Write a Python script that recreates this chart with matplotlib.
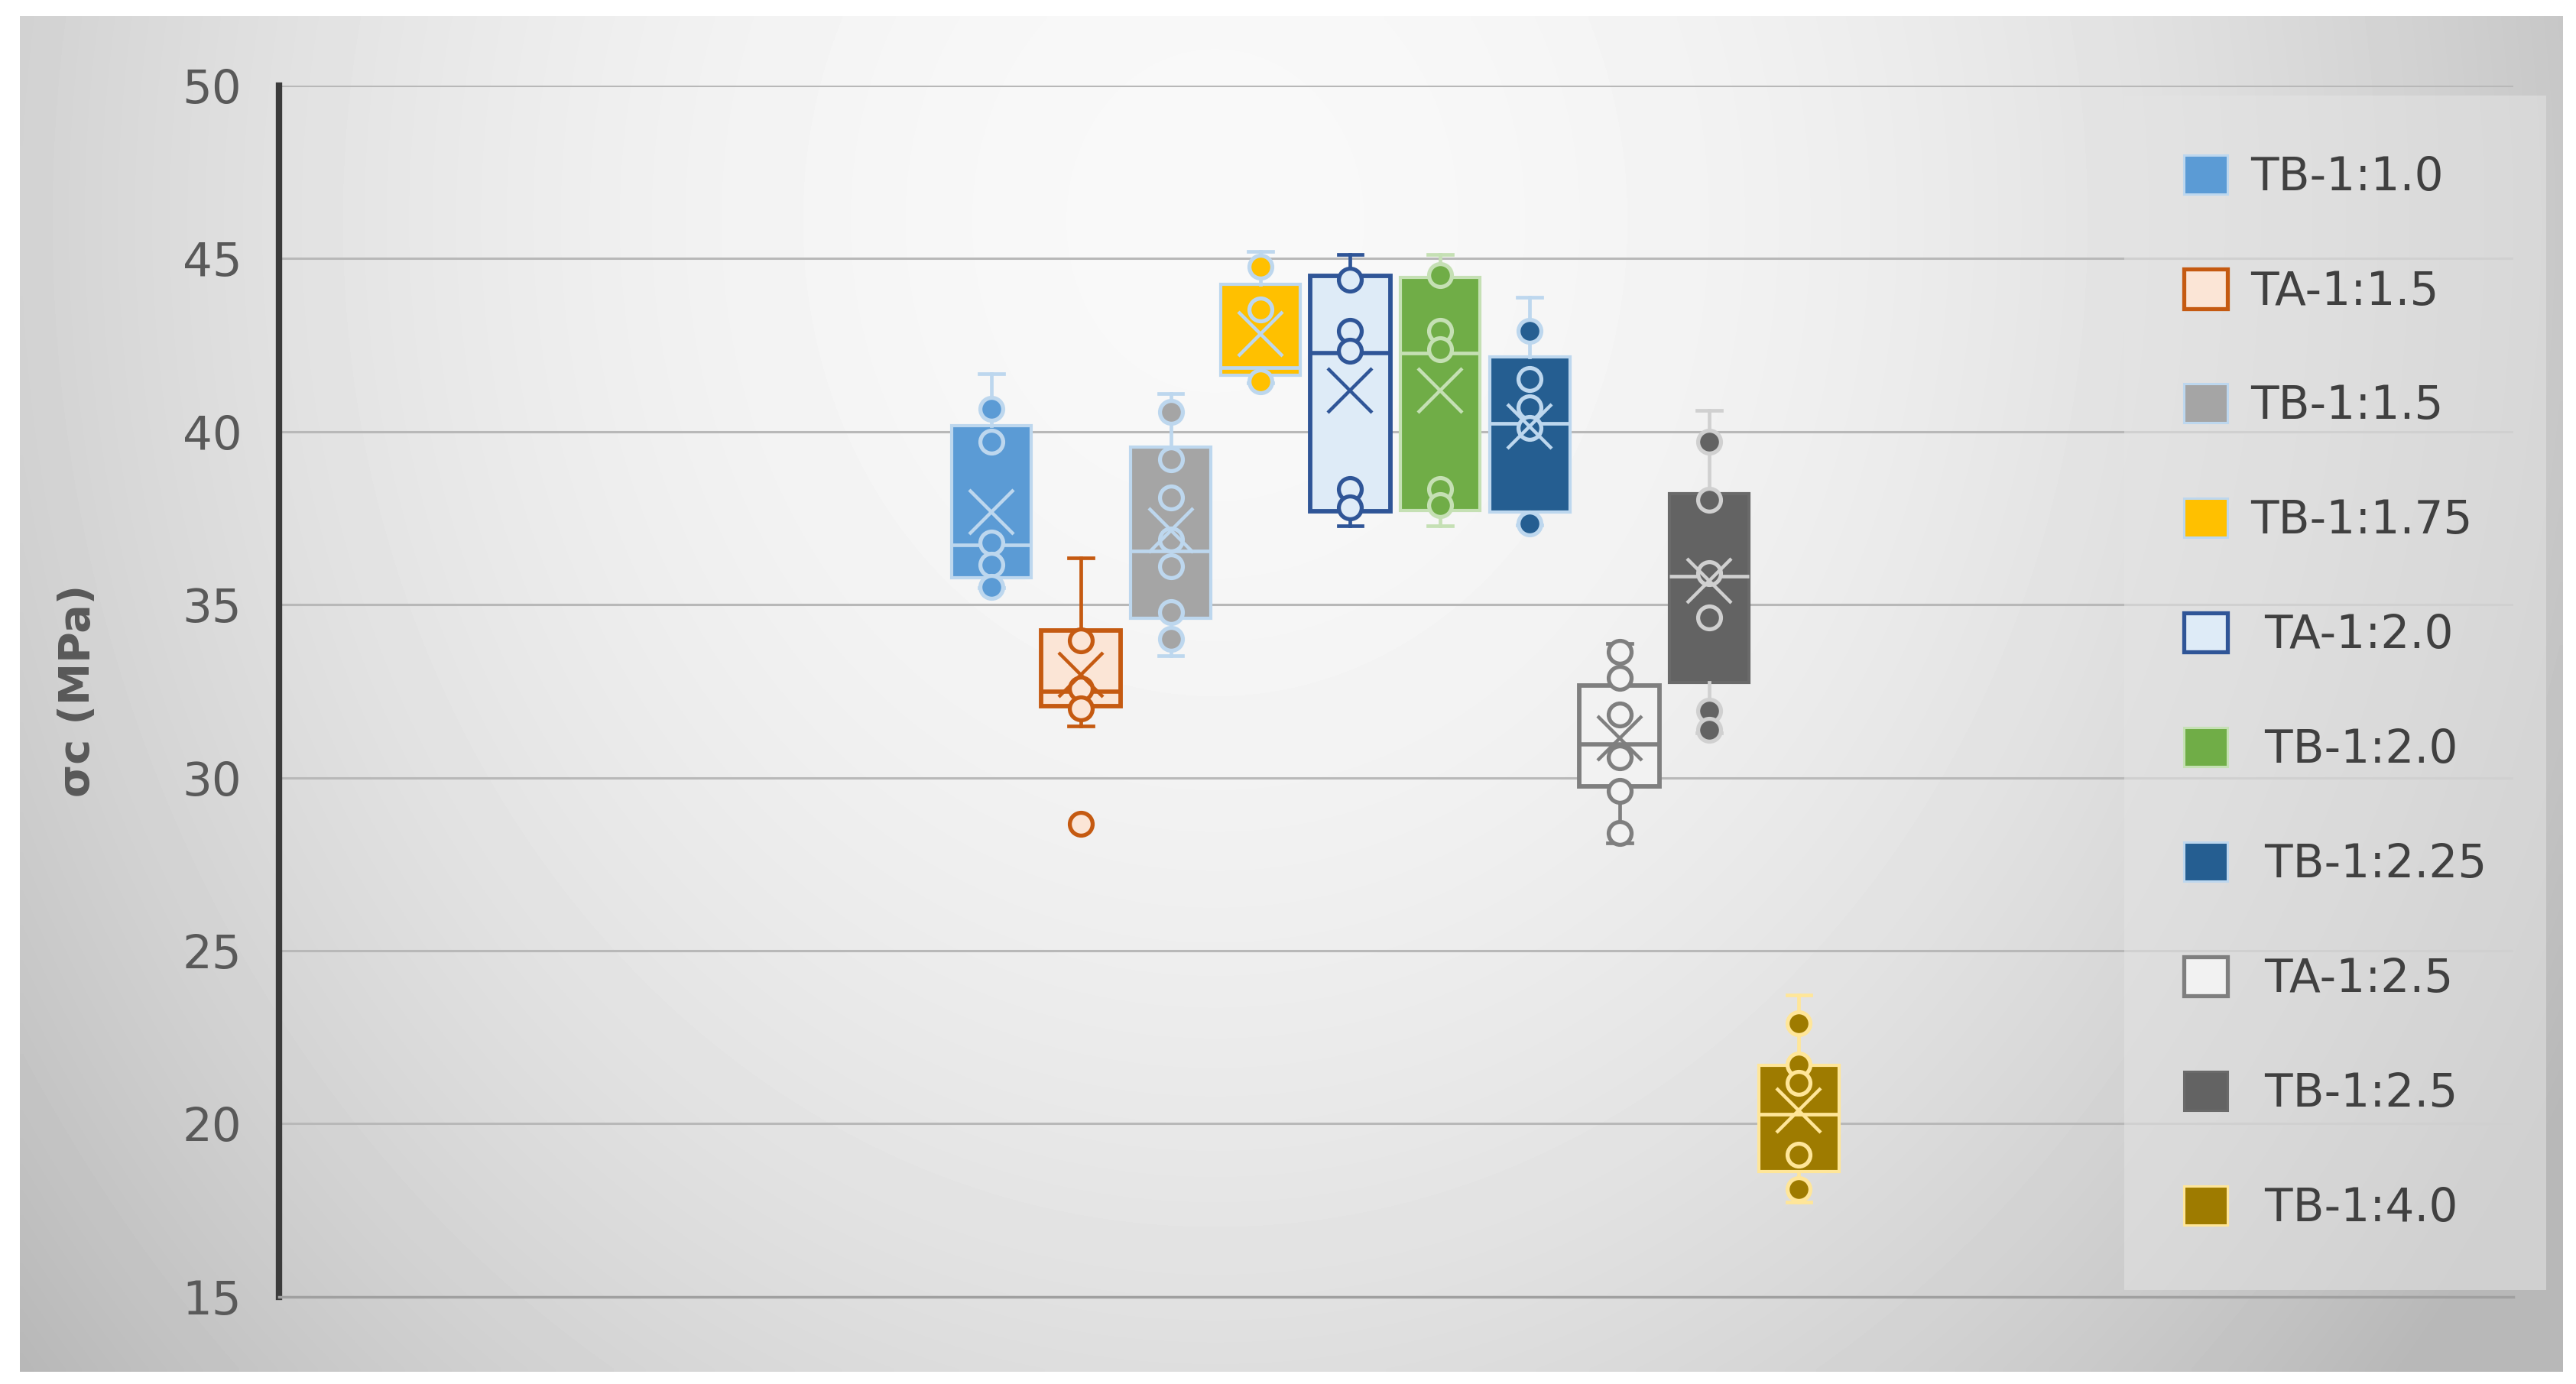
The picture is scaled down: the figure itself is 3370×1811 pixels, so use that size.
import numpy as np
import matplotlib
matplotlib.use("Agg")
import matplotlib.pyplot as plt
from matplotlib.patches import Patch

# series, in legend order
labels = ["TB-1:1.0", "TA-1:1.5", "TB-1:1.5", "TB-1:1.75", " TA-1:2.0",
          " TB-1:2.0", " TB-1:2.25", " TA-1:2.5", " TB-1:2.5", " TB-1:4.0"]

# box statistics (MPa)
q1 = [35.78, 32.07, 34.61, 41.62, 37.70, 37.72, 37.68, 29.74, 32.76, 18.62]
med = [36.73, 32.49, 36.55, 41.86, 42.27, 42.28, 40.24, 30.97, 35.83, 20.28]
q3 = [40.17, 34.26, 39.55, 44.25, 44.50, 44.45, 42.17, 32.66, 38.21, 21.68]
whislo = [35.50, 31.50, 33.52, 41.40, 37.28, 37.28, 37.30, 28.12, 31.30, 17.73]
whishi = [41.67, 36.36, 41.11, 45.20, 45.11, 45.11, 43.88, 33.87, 40.61, 23.73]
means = [37.68, 32.97, 37.15, 42.83, 41.18, 41.18, 40.15, 31.13, 35.70, 20.39]
points = [
    [40.66, 39.71, 36.80, 36.15, 35.51],
    [33.97, 32.57, 32.01, 28.67],
    [40.58, 39.19, 38.10, 36.88, 36.11, 34.79, 34.01],
    [44.76, 43.53, 41.45],
    [44.40, 42.91, 42.34, 38.34, 37.81],
    [44.53, 42.91, 42.39, 38.34, 37.87],
    [42.91, 41.51, 40.70, 40.10, 37.35],
    [33.64, 32.89, 31.83, 30.58, 29.62, 28.41],
    [39.71, 38.03, 35.92, 34.64, 31.94, 31.39],
    [22.90, 21.71, 21.17, 19.10, 18.12],
]

fills = ["#5B9BD5", "#FBE5D6", "#A5A5A5", "#FFC000", "#DEEBF7",
         "#70AD47", "#255E91", "#F2F2F2", "#636363", "#9E7B00"]
lines = ["#BDD7EE", "#C55A11", "#BDD7EE", "#BDD7EE", "#2F5597",
         "#C5E0B4", "#BDD7EE", "#7F7F7F", "#D0D0D0", "#FFE699"]
box_edges = ["#BDD7EE", "#C55A11", "#BDD7EE", "#BDD7EE", "#2F5597",
             "#C5E0B4", "#BDD7EE", "#7F7F7F", "#6A6A6A", "#FFE699"]

fig = plt.figure(figsize=(33.7, 18.11), dpi=100, facecolor="white")

# chart area background: soft radial gradient like the office chart style
bg = fig.add_axes([0.0077, 0.0088, 0.987, 0.9796], zorder=-1)
gx, gy = np.meshgrid(np.linspace(0, 1, 400), np.linspace(0, 1, 220))
r2 = ((gx - 0.47) / 0.6) ** 2 + ((gy - 0.15) / 1.3) ** 2
shade = np.clip(0.975 - 0.245 * r2, 0.72, 1.0)
bg.imshow(shade, cmap="gray", vmin=0, vmax=1, aspect="auto",
          extent=(0, 1, 1, 0), interpolation="bilinear")
bg.set_xlim(0, 1)
bg.set_ylim(1, 0)
bg.axis("off")

ax = fig.add_axes([0.1083, 0.0630, 0.8674, 0.8752], facecolor="none")

positions = np.arange(1, len(labels) + 1)
stats = []
for i in range(len(labels)):
    stats.append(dict(med=med[i], q1=q1[i], q3=q3[i], whislo=whislo[i],
                      whishi=whishi[i], mean=means[i], fliers=[],
                      label=labels[i]))

bp = ax.bxp(stats, positions=positions, widths=0.89, capwidths=0.27,
            patch_artist=True, showmeans=True, showfliers=False,
            meanprops=dict(marker="x", markersize=42, markeredgewidth=3.2),
            zorder=3)

for i in range(len(labels)):
    is_ta = labels[i].strip().startswith("TA")
    b = bp["boxes"][i]
    b.set_facecolor(fills[i])
    b.set_edgecolor(box_edges[i])
    b.set_linewidth(4.2 if is_ta else 3.0)
    bp["medians"][i].set_color(lines[i])
    bp["medians"][i].set_linewidth(4.0 if is_ta else 3.4)
    for w in bp["whiskers"][2 * i:2 * i + 2]:
        w.set_color(lines[i])
        w.set_linewidth(3.4)
    for c in bp["caps"][2 * i:2 * i + 2]:
        c.set_color(lines[i])
        c.set_linewidth(3.4)
    m = bp["means"][i]
    m.set_markeredgecolor(lines[i])
    m.set_zorder(6)
    ax.plot([positions[i]] * len(points[i]), points[i], "o", ms=21.5,
            mfc=fills[i], mec=lines[i], mew=3.8, zorder=5)

ax.set_xlim(-6.936, 17.96)
ax.set_ylim(15, 50)
ax.set_yticks(range(15, 51, 5))
ax.set_xticks([])
ax.yaxis.grid(True, color="#b8b8b8", lw=2.2, zorder=0)
ax.set_axisbelow(True)

for s in ["top", "right"]:
    ax.spines[s].set_visible(False)
ax.spines["left"].set_color("#3b3b3b")
ax.spines["left"].set_linewidth(6)
ax.spines["bottom"].set_color("#a0a0a0")
ax.spines["bottom"].set_linewidth(2.5)
ax.tick_params(axis="y", length=0, pad=35, labelsize=44, labelcolor="#595959")

ax.set_ylabel("σc (MPa)", fontsize=40, fontweight="bold", color="#595959")
ax.yaxis.set_label_coords(-0.0807, 0.5)

handles = []
for i in range(len(labels)):
    is_ta = labels[i].strip().startswith("TA")
    handles.append(Patch(facecolor=fills[i], edgecolor=box_edges[i],
                         lw=3.8 if is_ta else 2.2))
leg = ax.legend(handles, labels, loc="upper left",
                bbox_to_anchor=(0.8246, 0.931), bbox_transform=fig.transFigure,
                fontsize=43, labelcolor="#404040", frameon=True, fancybox=False,
                facecolor="#e4e4e4", edgecolor="none", framealpha=0.55,
                handlelength=0.97, handleheight=0.94, handletextpad=0.5,
                labelspacing=1.52, borderpad=1.3, borderaxespad=0)
leg.set_zorder(10)

fig.savefig("out.png", dpi=100, facecolor="white")
